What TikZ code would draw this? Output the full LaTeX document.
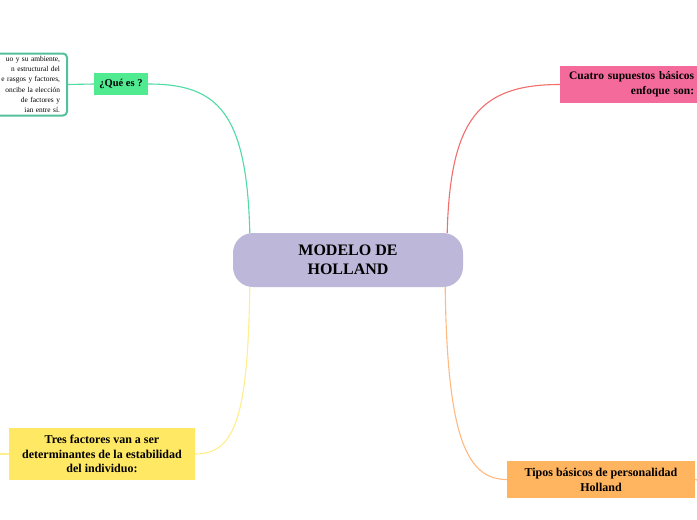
\documentclass[tikz,border=0pt]{standalone}
\usepackage{fontspec}
\setmainfont{Liberation Serif}
\definecolor{lavanda}{RGB}{189,184,218}
\definecolor{verde}{RGB}{80,234,145}
\definecolor{verdeborde}{RGB}{84,192,158}
\definecolor{verdelinea}{RGB}{80,218,164}
\definecolor{rosa}{RGB}{244,106,155}
\definecolor{rojolinea}{RGB}{242,110,108}
\definecolor{amarillo}{RGB}{255,232,100}
\definecolor{amarillolinea}{RGB}{255,238,140}
\definecolor{naranja}{RGB}{255,180,96}
\definecolor{naranjalinea}{RGB}{255,186,130}
\tikzset{
  tema/.style={font=\bfseries\fontsize{12}{15}\selectfont, align=center, inner sep=2pt},
  rama/.style={line width=1.1pt}
}
\begin{document}
\begin{tikzpicture}[x=1pt,y=-1pt]
\useasboundingbox[fill=white] (0,0) rectangle (697,520);

\node[fill=lavanda, rounded corners=20pt, minimum width=230pt, minimum height=54pt,
  font=\bfseries\fontsize{16}{19}\selectfont, align=center] (modelo) at (348,260) {MODELO DE\\HOLLAND};

\node[tema, fill=verde, minimum width=54pt, minimum height=22pt,
  font=\bfseries\fontsize{10.5}{12}\selectfont] (quees) at (121,84) {¿Qué es ?};
\node[draw=verdeborde, line width=2pt, fill=white, rounded corners=4pt, anchor=east,
  text width=135pt, minimum height=62pt, inner xsep=7pt, inner ysep=1pt, align=right,
  font=\fontsize{7.4}{10.2}\selectfont] (definicion) at (68,84.5)
  {uo y su ambiente,\\n estructural del\\e rasgos y factores,\\oncibe la elección\\de factores y\\ian entre sí.};

\node[tema, fill=rosa, anchor=west, text width=128pt, inner xsep=6pt, minimum height=37pt,
  align=right, font=\bfseries\fontsize{11.5}{15}\selectfont] (supuestos) at (560,84.5)
  {Cuatro supuestos básicos\\enfoque son:};

\node[tema, fill=amarillo, minimum width=186pt, minimum height=52pt,
  font=\bfseries\fontsize{12}{14.5}\selectfont] (factores) at (102,454)
  {Tres factores van a ser\\determinantes de la estabilidad\\del individuo:};

\node[tema, fill=naranja, minimum width=188pt, minimum height=37pt] (tipos) at (601,479.5)
  {Tipos básicos de personalidad\\Holland};

\coordinate (finamarillo) at (0,454);
\coordinate (finnaranja) at (697,480);

% ramas
\draw[rama, verdelinea] ([xshift=17pt]modelo.north west) .. controls +(-3,-120) and +(70,0) .. (quees.east);
\draw[rama, verdelinea] (quees.west) -- (definicion.east);
\draw[rama, rojolinea] ([xshift=-16pt]modelo.north east) .. controls +(3,-115) and +(-80,0) .. (supuestos.west);
\draw[rama, amarillolinea] ([xshift=17pt]modelo.south west) .. controls +(-2,130) and +(40,0) .. (factores.east);
\draw[rama, amarillolinea] (factores.west) -- (finamarillo);
\draw[rama, naranjalinea] ([xshift=-18pt]modelo.south east) .. controls +(2,150) and +(-40,0) .. (tipos.west);
\draw[rama, naranjalinea] (tipos.east) -- (finnaranja);
\end{tikzpicture}
\end{document}
